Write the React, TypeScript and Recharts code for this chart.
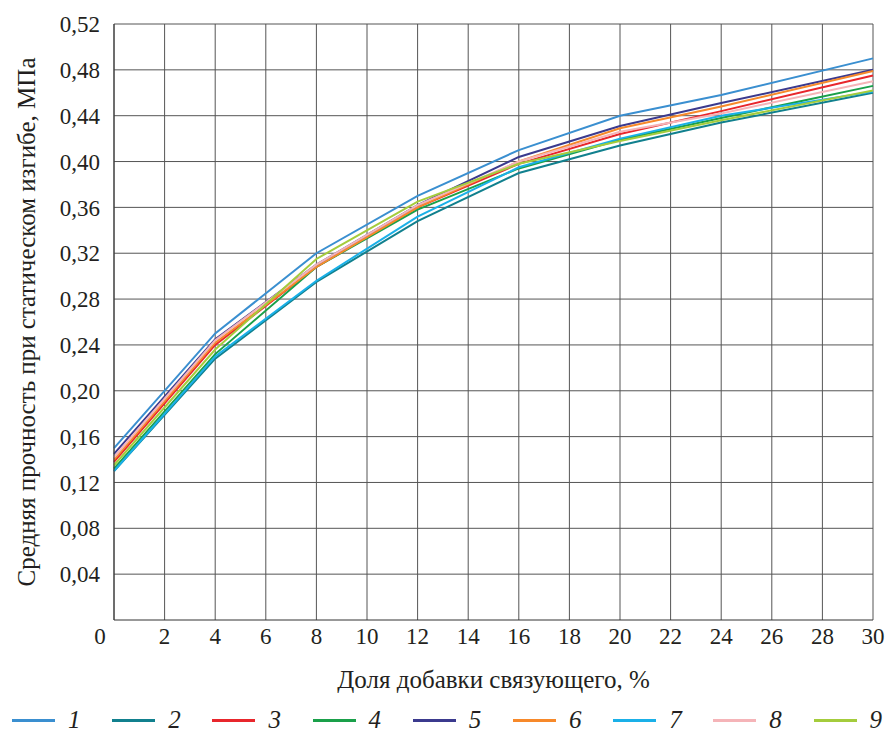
import { LineChart, Line, XAxis, YAxis, CartesianGrid, Legend } from "recharts";

const binderShare = [0, 4, 8, 12, 16, 20, 24, 30];

const s1 = [0.15, 0.25, 0.32, 0.37, 0.41, 0.44, 0.458, 0.49];
const s2 = [0.13, 0.228, 0.295, 0.348, 0.39, 0.414, 0.434, 0.46];
const s3 = [0.138, 0.24, 0.308, 0.36, 0.398, 0.424, 0.444, 0.475];
const s4 = [0.132, 0.232, 0.308, 0.358, 0.394, 0.419, 0.438, 0.466];
const s5 = [0.145, 0.245, 0.31, 0.362, 0.404, 0.431, 0.451, 0.48];
const s6 = [0.14, 0.242, 0.308, 0.36, 0.4, 0.429, 0.448, 0.479];
const s7 = [0.13, 0.23, 0.296, 0.352, 0.395, 0.42, 0.44, 0.461];
const s8 = [0.142, 0.244, 0.31, 0.362, 0.4, 0.426, 0.442, 0.47];
const s9 = [0.135, 0.236, 0.315, 0.365, 0.398, 0.418, 0.436, 0.462];

const seriesNames = ["1", "2", "3", "4", "5", "6", "7", "8", "9"];
const seriesValues = [s1, s2, s3, s4, s5, s6, s7, s8, s9];
const COLORS = [
  "#3a8fd0", "#11808e", "#e8262c", "#1aa04a", "#3b3a8e",
  "#f7892a", "#1ab0e8", "#f5b4b8", "#a4cc3c",
];

const xTicks = [0, 2, 4, 6, 8, 10, 12, 14, 16, 18, 20, 22, 24, 26, 28, 30];
const yTicks = [0.04, 0.08, 0.12, 0.16, 0.2, 0.24, 0.28, 0.32, 0.36, 0.4, 0.44, 0.48, 0.52];

const data = binderShare.map((x, i) => {
  const row: Record<string, number> = { x };
  seriesNames.forEach((n, k) => (row[n] = seriesValues[k][i]));
  return row;
});

const FONT = "Liberation Serif, Tinos, Times New Roman, DejaVu Serif, serif";
const INK = "#231f20";

function XTick({ x, y, payload }: any) {
  const dx = payload.value === 0 ? -14 : 0;
  return (
    <text x={x + dx} y={y + 16} textAnchor="middle" style={{ fontFamily: FONT }} fontSize={23} fill={INK}>
      {payload.value}
    </text>
  );
}

function LegendRow() {
  return (
    <div
      style={{
        display: "flex",
        justifyContent: "space-between",
        alignItems: "center",
        height: 36,
        padding: "4px 6px 0 12px",
        boxSizing: "border-box",
        width: 888,
      }}
    >
      {seriesNames.map((n, i) => (
        <div key={n} style={{ display: "flex", alignItems: "center" }}>
          <div style={{ width: 43, height: 3, background: COLORS[i] }} />
          <span
            style={{
              marginLeft: 13,
              fontFamily: FONT,
              fontStyle: "italic",
              fontSize: 25,
              color: INK,
            }}
          >
            {n}
          </span>
        </div>
      ))}
    </div>
  );
}

export default function App() {
  return (
    <div style={{ position: "absolute", left: 0, top: 0, background: "#fff", fontFamily: FONT }}>
      <LineChart width={888} height={736} data={data} margin={{ top: 24, right: 15, left: 0, bottom: 0 }}>
        <CartesianGrid stroke="#555" strokeWidth={1} horizontalValues={yTicks} verticalValues={xTicks} />
        <XAxis
          dataKey="x"
          type="number"
          domain={[0, 30]}
          ticks={xTicks}
          tickLine={false}
          axisLine={{ stroke: "#333" }}
          tick={<XTick />}
          height={80}
          label={{
            value: "Доля добавки связующего, %",
            position: "insideBottom",
            offset: 12,
            style: { fontFamily: FONT, fontSize: 25, fill: INK },
          }}
        />
        <YAxis
          type="number"
          domain={[0, 0.52]}
          ticks={yTicks}
          tickLine={false}
          axisLine={{ stroke: "#333" }}
          width={114}
          tickFormatter={(v: number) => v.toFixed(2).replace(".", ",")}
          tick={{ fontFamily: FONT, fontSize: 23, fill: INK, style: { fontFamily: FONT } }}
          tickMargin={8}
          label={{
            content: ({ viewBox }: any) => {
              const cx = 26;
              const cy = viewBox.y + viewBox.height / 2;
              return (
                <text
                  x={cx}
                  y={cy}
                  transform={`rotate(-90 ${cx} ${cy})`}
                  textAnchor="middle"
                  dominantBaseline="central"
                  style={{ fontFamily: FONT }}
                  fontSize={25}
                  fill={INK}
                >
                  Средняя прочность при статическом изгибе, МПа
                </text>
              );
            },
          }}
        />
        <Legend verticalAlign="bottom" content={() => <LegendRow />} wrapperStyle={{ left: 0, height: 36 }} />
        {seriesNames.map((n, i) => (
          <Line
            key={n}
            dataKey={n}
            stroke={COLORS[i]}
            strokeWidth={2}
            dot={false}
            isAnimationActive={false}
          />
        ))}
      </LineChart>
    </div>
  );
}
